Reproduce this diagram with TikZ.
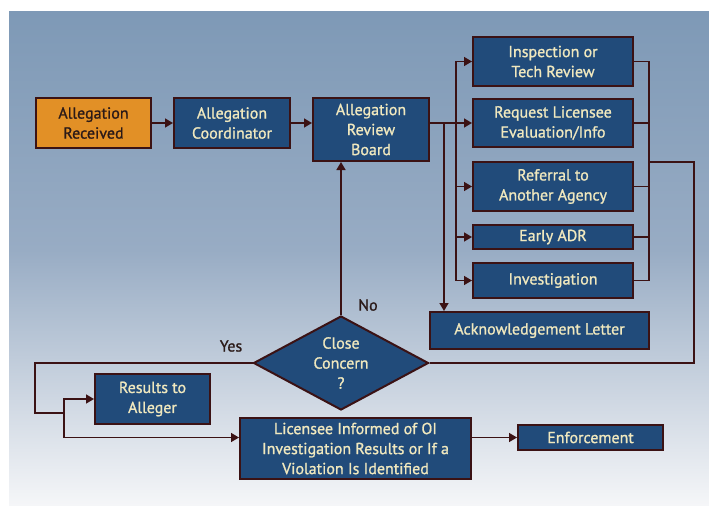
\documentclass[tikz,border=0pt]{standalone}
\usepackage{fontspec}
\setmainfont{PT Sans}
\newfontfamily\boxfont{PT Sans}[BoldFont={PT Sans},BoldFeatures={FakeBold=1.1}]
\usepackage{xcolor}
\usepackage{tikz}
\usetikzlibrary{shapes.geometric,arrows.meta}
\definecolor{NRC-Blue}{RGB}{33,75,122}
\definecolor{NRC-Orange}{RGB}{226,144,38}
\definecolor{NRC-Frame}{RGB}{59,18,20}
\definecolor{NRC-Cream}{RGB}{240,232,190}
\definecolor{NRC-Ink}{RGB}{43,26,24}
\definecolor{Sky-Top}{RGB}{126,153,182}
\definecolor{Sky-Mid}{RGB}{152,172,196}
\definecolor{Sky-Low}{RGB}{245,246,248}
\tikzstyle{e}=[line width=1.5pt,draw=NRC-Frame]
\tikzstyle{arr}=[e,-{Triangle[length=8pt,width=9pt]}]
\tikzstyle{n}=[rectangle,draw=NRC-Frame,fill=NRC-Blue,line width=2pt,text=NRC-Cream,align=center,inner sep=0pt,font=\boxfont\bfseries\fontsize{16}{20}\selectfont]
\tikzstyle{start}=[fill=NRC-Orange,text=NRC-Ink]
\tikzstyle{decision}=[n,diamond,aspect=1.86]
\tikzstyle{lbl}=[text=NRC-Ink,inner sep=0pt,font=\boxfont\bfseries\fontsize{16}{20}\selectfont]

\begin{document}
\begin{tikzpicture}[x=1pt,y=-1pt]

\useasboundingbox (0,0) rectangle (709,506);
\shade[top color=Sky-Top,bottom color=Sky-Mid] (9,11) rectangle (709,250.5);
\shade[top color=Sky-Mid,bottom color=Sky-Low] (9,250) rectangle (709,505);

% Nodes
\node[n,start,minimum width=115pt,minimum height=50pt] (allegation received) at (93.5,123)  {Allegation\\Received};
\node[n,minimum width=116pt,minimum height=50pt]       (coordinator)         at (232,123)   {Allegation\\Coordinator};
\node[n,minimum width=116pt,minimum height=63pt]       (review board)        at (371,129.5) {Allegation\\Review\\Board};
\node[n,minimum width=160pt,minimum height=49pt]       (inspection)          at (553,61.5)  {Inspection or\\Tech Review};
\node[n,minimum width=160pt,minimum height=48pt]       (request)             at (553,123)   {Request Licensee\\Evaluation/Info};
\node[n,minimum width=160pt,minimum height=49pt]       (referral)            at (553,186.5) {Referral to\\Another Agency};
\node[n,minimum width=160pt,minimum height=24pt]       (early adr)           at (553,237)   {Early ADR};
\node[n,minimum width=160pt,minimum height=35pt]       (investigation)       at (553,280.5) {Investigation};
\node[n,minimum width=219pt,minimum height=37pt]       (acknowledgement)     at (539.5,330.5) {Acknowledgement Letter};
\node[decision,minimum width=175pt,minimum height=94pt] (close concern)      at (341,363)   {Close\\Concern\\?};
\node[n,minimum width=115pt,minimum height=50pt]       (results)             at (152.5,399) {Results to\\Alleger};
\node[n,minimum width=231pt,minimum height=61pt]       (licensee informed)   at (355.5,448.5) {Licensee Informed of OI\\Investigation Results or If a\\Violation Is Identified};
\node[n,minimum width=145pt,minimum height=25pt]       (enforcement)         at (590.5,437.5) {Enforcement};
\node[lbl] (no label)  at (368,305) {No};
\node[lbl] (yes label) at (231,346) {Yes};

% Junctions
\coordinate (fan)       at (456,123);
\coordinate (ack fork)  at (444,123);
\coordinate (merge)     at (649,162);
\coordinate (loop)      at (694,162);
\coordinate (yes left)  at (35,413);
\coordinate (yes fork)  at (64,413);

% Edges
\draw[arr] (allegation received) -- (coordinator);
\draw[arr] (coordinator.east) -- (coordinator.east -| review board.west);
\draw[arr] (review board.east |- request) -- (request.west);
\draw[arr] (fan) |- (inspection.west);
\draw[arr] (fan) |- (referral.west);
\draw[arr] (fan) |- (early adr.west);
\draw[arr] (fan) |- (investigation.west);
\draw[arr] (ack fork) -- (ack fork |- acknowledgement.north);
\draw[e] (inspection.east) -| (merge);
\draw[e] (request.east) -| (merge);
\draw[e] (referral.east) -| (merge);
\draw[e] (early adr.east) -| (merge);
\draw[e] (investigation.east) -| (merge);
\draw[e] (merge) -- (loop) |- (close concern.east);
\draw[arr] (close concern.north) -- (close concern.north |- review board.south);
\draw[e] (close concern.west) -| (yes left) -- (yes fork);
\draw[arr] (yes fork) |- (results.west);
\draw[arr] (yes fork) |- (licensee informed.west |- enforcement);
\draw[arr] (licensee informed.east |- enforcement) -- (enforcement.west);

\end{tikzpicture}
\end{document}
